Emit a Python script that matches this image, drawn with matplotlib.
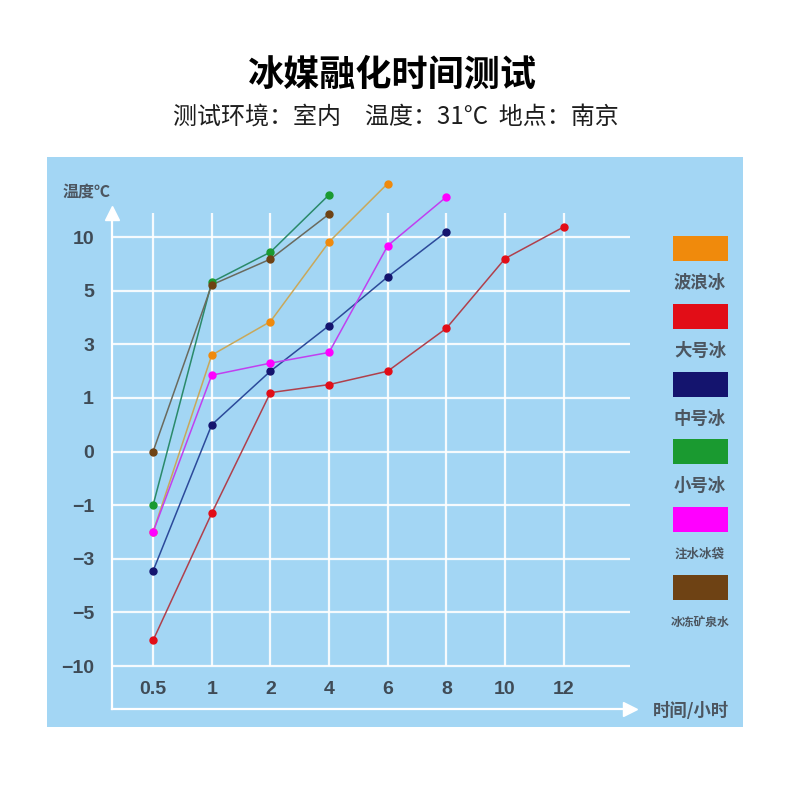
import matplotlib.pyplot as plt
import numpy as np
from matplotlib.patches import Rectangle

plt.rcParams['font.family'] = ['Noto Sans CJK SC', 'DejaVu Sans']

# categories on x (equally spaced), uneven temperature ticks on y
times = ['0.5', '1', '2', '4', '6', '8', '10', '12']
temp_ticks = [-10, -5, -3, -1, 0, 1, 3, 5, 10]

# readings per ice type, starting at 0.5 h
wave_ice = [-2, 2.6, 3.85, 9.55, 15]
large_ice = [-7.6, -1.3, 1.2, 1.5, 2.0, 3.6, 8.0, 10.95]
medium_ice = [-3.45, 0.5, 2.0, 3.7, 6.3, 10.5]
small_ice = [-1, 5.8, 8.6, 13.95]
bag_ice = [-2, 1.85, 2.3, 2.7, 9.2, 13.75]
bottle_ice = [0, 5.55, 7.95, 12.15]

names = ['波浪冰', '大号冰', '中号冰', '小号冰', '注水冰袋', '冰冻矿泉水']
series = [wave_ice, large_ice, medium_ice, small_ice, bag_ice, bottle_ice]
marker_colors = ['#f08a0c', '#e20d17', '#14146e', '#1a9a30', '#ff00ff', '#6e4214']
line_colors = ['#c9a85a', '#b0404c', '#2c4a9a', '#2a8a6a', '#c040f0', '#6a6a5e']

# y scale: each tick one step apart (extra steps outside for extrapolation)
scale_vals = [-15] + temp_ticks + [15, 20]
scale_idx = np.arange(-1, len(scale_vals) - 1)


def fwd(v):
    return np.interp(v, scale_vals, scale_idx)


def inv(i):
    return np.interp(i, scale_idx, scale_vals)


fig = plt.figure(figsize=(8, 8), dpi=100)
fig.patch.set_facecolor('white')
panel = Rectangle((0.05875, 0.09125), 0.87, 0.7125, transform=fig.transFigure,
                  facecolor='#a3d6f4', edgecolor='none', zorder=0)
fig.add_artist(panel)

ax = fig.add_axes([0.14, 0.11375, 0.6475, 0.62])
ax.patch.set_alpha(0)
ax.set_yscale('function', functions=(fwd, inv))
ax.set_xlim(-0.70, 8.13)
ax.set_ylim(inv(-0.80), inv(8.45))

x = np.arange(len(times))
ax.set_xticks(x, times)
ax.set_yticks(temp_ticks, [str(t).replace('-', '\u2212') for t in temp_ticks])
ax.tick_params(length=0, labelcolor='#3f4b56')
ax.tick_params(axis='x', pad=-20)
ax.tick_params(axis='y', pad=13)
for lab in ax.get_xticklabels() + ax.get_yticklabels():
    lab.set_fontfamily(['Liberation Sans', 'DejaVu Sans'])
    lab.set_fontsize(14)
    lab.set_fontweight('bold')

ax.grid(axis='y', color='white', lw=1.6, alpha=0.9)
ax.set_axisbelow(True)
ax.vlines(x, -10, inv(8.45), color='white', lw=1.6, alpha=0.9, zorder=1)

for s in ['top', 'right']:
    ax.spines[s].set_visible(False)
for s in ['left', 'bottom']:
    ax.spines[s].set_color('white')
    ax.spines[s].set_linewidth(1.6)
ax.plot([0], [1], marker='^', ms=10, color='white', transform=ax.transAxes, clip_on=False)
ax.plot([1], [0], marker='>', ms=10, color='white', transform=ax.transAxes, clip_on=False)

for vals, mc, lc in zip(series, marker_colors, line_colors):
    xs = x[:len(vals)]
    ax.plot(xs, vals, color=lc, lw=1.1, zorder=3, clip_on=False)
    ax.plot(xs, vals, 'o', color=mc, ms=5, zorder=4, clip_on=False)

fig.text(0.49, 1 - 75 / 800, '冰媒融化时间测试', ha='center', va='center',
         fontsize=26, fontweight='heavy', color='black')
fig.text(0.495, 1 - 117 / 800, '测试环境：室内　温度：31°C  地点：南京', ha='center',
         va='center', fontsize=17.3, color='#1e1e1e')
fig.text(87 / 800, 1 - 192 / 800, '温度℃', ha='center', va='center',
         fontsize=11.5, fontweight='bold', color='#4c5660')
fig.text(691 / 800, 1 - 711 / 800, '时间/小时', ha='center', va='center',
         fontsize=12.5, fontweight='bold', color='#4c5660')

# legend: colour blocks with names underneath
label_sizes = [12.5, 12.5, 12.5, 12.5, 9, 8.5]
for k, (name, mc) in enumerate(zip(names, marker_colors)):
    top = 236 + k * 67.8
    fig.add_artist(Rectangle((673 / 800, 1 - (top + 25) / 800), 55 / 800, 25 / 800,
                             transform=fig.transFigure, facecolor=mc, edgecolor='none'))
    fig.text(700 / 800, 1 - (top + 47) / 800, name, ha='center', va='center',
             fontsize=label_sizes[k], fontweight='bold', color='#4c5660')

fig.savefig('out.png', dpi=100)
